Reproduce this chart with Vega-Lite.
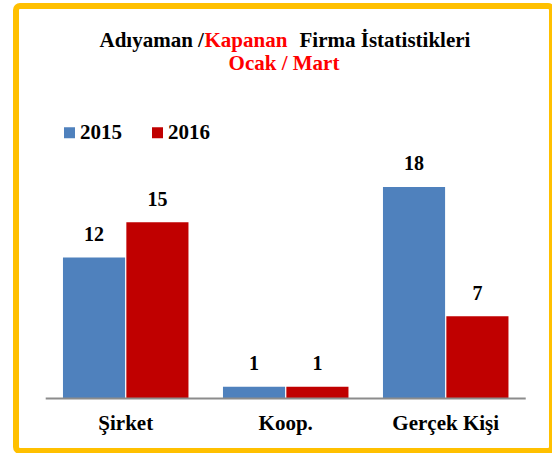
{
  "$schema": "https://vega.github.io/schema/vega-lite/v6.json",
  "width": 536,
  "height": 445,
  "autosize": "none",
  "padding": {"left": 16, "top": 6, "right": 0, "bottom": 2},
  "background": "white",
  "title": {
    "text": "Ocak / Mart",
    "anchor": "middle",
    "frame": "group",
    "font": "Liberation Serif",
    "fontSize": 21,
    "fontWeight": "bold",
    "color": "#FF0000",
    "offset": 0,
    "dy": 68
  },
  "data": {
    "values": [
      {"kategori": "Şirket", "yil": "2015", "sayi": 12},
      {"kategori": "Şirket", "yil": "2016", "sayi": 15},
      {"kategori": "Koop.", "yil": "2015", "sayi": 1},
      {"kategori": "Koop.", "yil": "2016", "sayi": 1},
      {"kategori": "Gerçek Kişi", "yil": "2015", "sayi": 18},
      {"kategori": "Gerçek Kişi", "yil": "2016", "sayi": 7}
    ]
  },
  "resolve": {"axis": {"x": "independent"}},
  "layer": [
    {
      "mark": {"type": "bar"},
      "encoding": {
        "x": {
          "field": "kategori",
          "type": "nominal",
          "sort": ["Şirket", "Koop.", "Gerçek Kişi"],
          "scale": {"paddingInner": 0.2156, "paddingOuter": 0.2828, "align": 0.519},
          "axis": {
            "title": "Adıyaman /",
            "titleFont": "Liberation Serif",
            "titleFontSize": 21,
            "titleFontWeight": "bold",
            "titleColor": "black",
            "titleAlign": "left",
            "titleBaseline": "alphabetic",
            "titleAngle": 0,
            "titleX": 83,
            "titleY": -353,
            "domain": false,
            "ticks": false,
            "labelAngle": 0,
            "labelFont": "Liberation Serif",
            "labelFontSize": 21,
            "labelFontWeight": "bold",
            "labelColor": "black",
            "labelBaseline": "alphabetic",
            "labelPadding": 30,
            "offset": -52
          }
        },
        "xOffset": {"field": "yil", "type": "nominal", "scale": {"paddingInner": 0.02}},
        "y": {
          "field": "sayi",
          "type": "quantitative",
          "scale": {"domain": [-4.468, 33.404], "nice": false, "zero": false},
          "axis": {
            "title": "Kapanan",
            "domain": false,
            "ticks": false,
            "labels": false,
            "grid": false,
            "titleColor": "#FF0000",
            "titleFont": "Liberation Serif",
            "titleFontSize": 21,
            "titleFontWeight": "bold",
            "titleAngle": 0,
            "titleAlign": "left",
            "titleBaseline": "alphabetic",
            "titleX": 188,
            "titleY": 40
          }
        },
        "y2": {"datum": 0},
        "color": {
          "field": "yil",
          "type": "nominal",
          "scale": {"domain": ["2015", "2016"], "range": ["#4F81BD", "#C00000"]},
          "legend": {
            "orient": "none",
            "legendX": 43,
            "legendY": 116,
            "direction": "horizontal",
            "title": null,
            "symbolType": "square",
            "symbolSize": 121,
            "symbolStrokeWidth": 0,
            "labelFont": "Liberation Serif",
            "labelFontSize": 21,
            "labelFontWeight": "bold",
            "labelColor": "black",
            "labelOffset": 0,
            "columnPadding": 25
          }
        }
      }
    },
    {
      "mark": {
        "type": "text",
        "font": "Liberation Serif",
        "fontSize": 20,
        "fontWeight": "bold",
        "color": "black",
        "baseline": "alphabetic",
        "dy": -16.5
      },
      "encoding": {
        "x": {
          "field": "kategori",
          "type": "nominal",
          "sort": ["Şirket", "Koop.", "Gerçek Kişi"],
          "axis": {
            "orient": "top",
            "title": "Firma İstatistikleri",
            "titleFont": "Liberation Serif",
            "titleFontSize": 21,
            "titleFontWeight": "bold",
            "titleColor": "black",
            "titleAlign": "left",
            "titleBaseline": "alphabetic",
            "titleAngle": 0,
            "titleX": 283,
            "titleY": 40,
            "labels": false,
            "ticks": false,
            "domain": false,
            "grid": false
          }
        },
        "xOffset": {"field": "yil", "type": "nominal"},
        "y": {"field": "sayi", "type": "quantitative"},
        "text": {"field": "sayi", "type": "quantitative"}
      }
    },
    {
      "data": {"values": [{"z": 0}]},
      "mark": {"type": "rule", "color": "#8C8C8C", "strokeWidth": 2},
      "encoding": {
        "x": {"datum": "Şirket", "bandPosition": -0.1375, "axis": null},
        "x2": {"datum": "Gerçek Kişi", "bandPosition": 1.1375},
        "y": {"field": "z", "type": "quantitative"}
      }
    }
  ],
  "config": {
    "view": {"stroke": "#FFC000", "strokeWidth": 6, "cornerRadius": 4}
  }
}
